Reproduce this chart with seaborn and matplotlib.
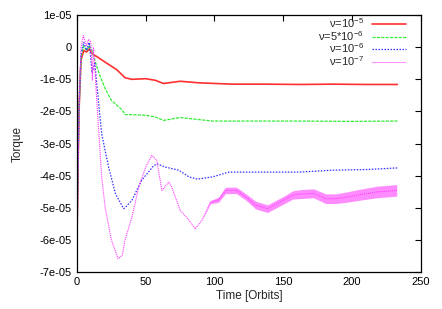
import numpy as np
import pandas as pd
import matplotlib
matplotlib.use("Agg")
import matplotlib.pyplot as plt
from matplotlib.lines import Line2D
import seaborn as sns

# ---- data (torque in units of 1e-5) ----
red_t = [0, 1.5, 3, 5, 7, 9, 11, 13, 20, 29, 35, 40, 50, 57, 63, 75, 89, 113, 137, 162, 186, 210, 233]
red_v = [-6.0, -2.0, -0.4, -0.1, -0.15, -0.05, -0.2, -0.25, -0.45, -0.7, -0.95, -1.0, -0.98, -1.03, -1.13,
         -1.06, -1.11, -1.15, -1.15, -1.16, -1.15, -1.16, -1.16]

green_t = [0, 1.5, 3, 5, 7, 9, 11, 13, 16, 20.5, 25, 33, 35, 40, 50, 57, 63, 75, 98.5, 125, 160, 200, 233]
green_v = [-6.0, -2.0, -0.3, 0.05, -0.1, 0.05, -0.1, -0.4, -0.8, -1.29, -1.65, -1.96, -2.1, -2.1, -2.12,
           -2.17, -2.28, -2.19, -2.3, -2.3, -2.3, -2.31, -2.3]

blue_t = [0, 1.5, 3, 5, 7, 9, 11, 13, 15.6, 18, 23, 28, 34, 35, 40, 47, 55, 58, 64, 74, 81.5, 87.6,
          98.5, 110.6, 137.5, 162, 186, 210.7, 233]
blue_v = [-6.2, -2.0, -0.2, 0.15, -0.1, 0.15, -0.8, -0.5, -1.65, -2.7, -3.73, -4.56, -5.03, -5.0, -4.77,
          -4.15, -3.73, -3.63, -3.73, -3.83, -4.04, -4.11, -4.04, -3.89, -3.89, -3.89, -3.83, -3.81, -3.76]

mag_t = [0, 1.5, 3, 4.6, 7, 8.5, 10.2, 11.3, 12, 13, 14.4, 18, 20.5, 25, 30, 33, 35, 40, 45, 50, 54.5, 58,
         61.8, 66.7, 69, 75, 81.5, 86, 91, 97, 103, 108, 112, 116, 123, 130, 138.6, 150, 157, 164, 172,
         181, 188, 196, 205, 218, 232.5]
mag_v = [-6.5, -2.0, 0.0, 0.36, 0.05, 0.25, 0.15, -1.04, 0.0, -0.6, -1.65, -4.04, -4.98, -6.0, -6.59, -6.48,
         -6.0, -5.29, -4.35, -3.73, -3.37, -3.52, -4.46, -4.2, -4.36, -5.08, -5.39, -5.66, -5.39, -4.83,
         -4.75, -4.46, -4.46, -4.46, -4.67, -4.92, -5.03, -4.77, -4.6, -4.57, -4.55, -4.72, -4.72, -4.67,
         -4.6, -4.51, -4.46]
# half width of the noisy band on the nu=1e-7 curve
mag_band = [0, 0, 0, 0, 0, 0, 0, 0, 0, 0, 0, 0, 0, 0, 0, 0,
            0, 0, 0, 0, 0, 0, 0, 0, 0, 0, 0, 0, 0, 0.05,
            0.08, 0.1, 0.1, 0.1, 0.1, 0.12, 0.12, 0.12, 0.13, 0.14, 0.14,
            0.15, 0.15, 0.16, 0.17, 0.18, 0.18]

labels = ["ν=10$^{-5}$", "ν=5*10$^{-6}$", "ν=10$^{-6}$", "ν=10$^{-7}$"]
colors = ["#ff3030", "#30ee30", "#3030ff", "#ff40ff"]
ytick_vals = [1e-5, 0, -1e-5, -2e-5, -3e-5, -4e-5, -5e-5, -6e-5, -7e-5]
ytick_labels = ["1e-05", "0", "-1e-05", "-2e-05", "-3e-05", "-4e-05", "-5e-05", "-6e-05", "-7e-05"]
xtick_vals = [0, 50, 100, 150, 200, 250]

sns.set_theme(style="white")
plt.rcParams["font.family"] = ["Liberation Sans", "DejaVu Sans"]
plt.rcParams["mathtext.fontset"] = "custom"
plt.rcParams["mathtext.rm"] = "Liberation Sans"
plt.rcParams["mathtext.it"] = "Liberation Sans"

frames = []
for t, v, lab in [(red_t, red_v, labels[0]), (green_t, green_v, labels[1]),
                  (blue_t, blue_v, labels[2]), (mag_t, mag_v, labels[3])]:
    frames.append(pd.DataFrame({"t": t, "torque": np.array(v) * 1e-5, "series": lab}))
df = pd.concat(frames, ignore_index=True)

fig = plt.figure(figsize=(4.42, 3.09), dpi=100)
ax = fig.add_axes([0.174, 0.120, 0.778, 0.831])

styles = ["-", (0, (2.5, 1)), (0, (1.2, 1.2)), (0, (1, 0.8))]
widths = [1.2, 0.9, 0.9, 0.8]

mt = np.array(mag_t)
mv = np.array(mag_v) * 1e-5
mb = np.array(mag_band) * 1e-5
ax.fill_between(mt, mv - mb, mv + mb, color="#ff40ff", alpha=0.6, lw=0)

sns.lineplot(data=df, x="t", y="torque", hue="series", hue_order=labels, palette=colors,
             ax=ax, legend=False, sort=False, estimator=None)
for line, ls, lw in zip(ax.get_lines(), styles, widths):
    line.set_linestyle(ls)
    line.set_linewidth(lw)

handles = [Line2D([], [], color=c, ls=s, lw=w) for c, s, w in zip(colors, styles, widths)]
leg = ax.legend(handles, labels, loc="upper right", frameon=False, markerfirst=False,
                fontsize=8, handlelength=3.0, labelspacing=-0.12, borderaxespad=0.0,
                borderpad=0.0, handletextpad=0.75, bbox_to_anchor=(0.956, 0.995))

ax.set_xlim(0, 250)
ax.set_ylim(-7e-5, 1e-5)
ax.set_xticks(xtick_vals)
ax.set_xticklabels([str(v) for v in xtick_vals])
ax.set_yticks(ytick_vals)
ax.set_yticklabels(ytick_labels)
ax.tick_params(direction="in", length=4, width=0.8, top=True, right=True, labelsize=8,
               colors="black", pad=4)
for s in ax.spines.values():
    s.set_color("black")
    s.set_linewidth(0.9)
ax.set_xlabel("Time [Orbits]", fontsize=8.5, labelpad=2)
ax.set_ylabel("Torque", fontsize=8.5, labelpad=11)

fig.savefig("out.png", dpi=100)
